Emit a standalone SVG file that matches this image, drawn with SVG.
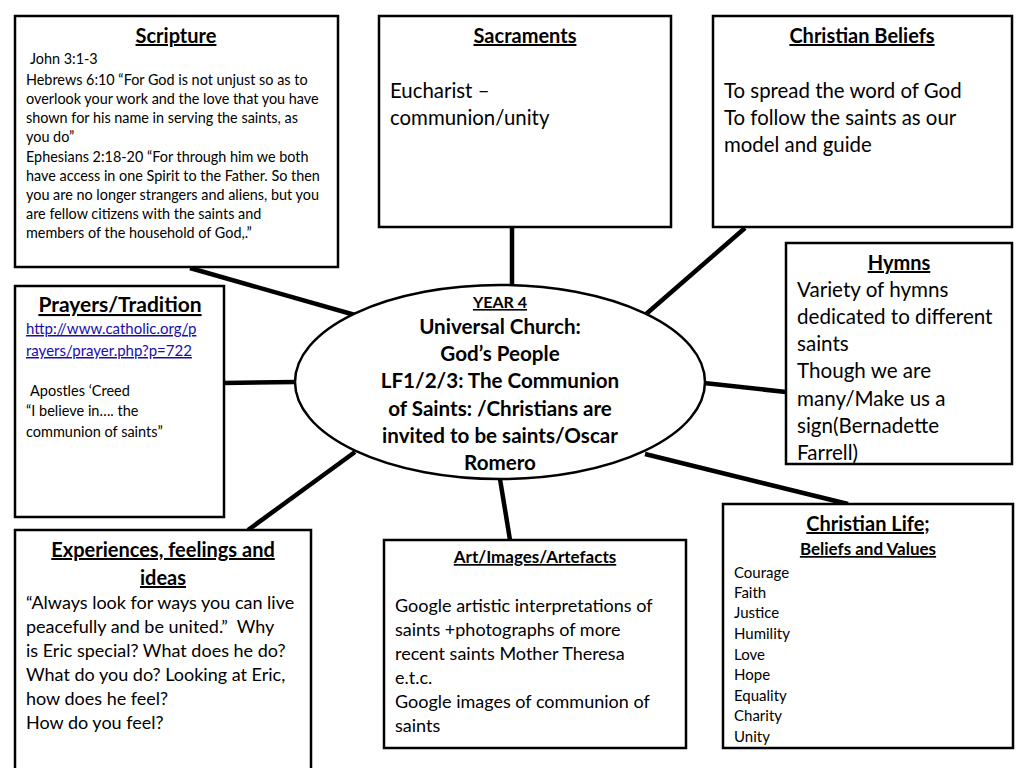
<svg xmlns="http://www.w3.org/2000/svg" width="1024" height="768" viewBox="0 0 1024 768">
<style>
.box{fill:#fff;stroke:#000;stroke-width:2.5}
.t{font-family:Lato,"Open Sans","Liberation Sans",sans-serif;fill:#000}
.h{font-weight:bold;text-decoration:underline;text-anchor:middle}
.c{font-weight:bold;text-anchor:middle}
.lnk{fill:#1a0dab;text-decoration:underline}
.con line{stroke:#000;stroke-width:4.5}
</style>
<rect width="1024" height="768" fill="#fff"/>
<g class="con">
<line x1="190" y1="268" x2="355" y2="315"/>
<line x1="512" y1="228" x2="512" y2="287"/>
<line x1="745" y1="228" x2="645" y2="315"/>
<line x1="224" y1="383" x2="296" y2="382"/>
<line x1="704" y1="383" x2="786" y2="392"/>
<line x1="248" y1="530" x2="355" y2="452"/>
<line x1="500" y1="479" x2="510" y2="540"/>
<line x1="645" y1="454" x2="848" y2="504"/>
</g>
<g id="scripture">
<rect class="box" x="15" y="16" width="323" height="251"/>
<text class="t h" x="176" y="43" font-size="20">Scripture</text>
<g class="t" font-size="14.4">
<text x="30" y="64">John 3:1-3</text>
<text x="26" y="85">Hebrews 6:10 “For God is not unjust so as to</text>
<text x="26" y="104">overlook your work and the love that you have</text>
<text x="26" y="123">shown for his name in serving the saints, as</text>
<text x="26" y="142">you do”</text>
<text x="26" y="162">Ephesians 2:18-20 “For through him we both</text>
<text x="26" y="181">have access in one Spirit to the Father. So then</text>
<text x="26" y="200">you are no longer strangers and aliens, but you</text>
<text x="26" y="219">are fellow citizens with the saints and</text>
<text x="26" y="238">members of the household of God,.”</text>
</g>
</g>
<g id="sacraments">
<rect class="box" x="379" y="16" width="292" height="211"/>
<text class="t h" x="525" y="43" font-size="20">Sacraments</text>
<text class="t" x="390" y="98" font-size="20.4">Eucharist –</text>
<text class="t" x="390" y="125" font-size="20.4">communion/unity</text>
</g>
<g id="beliefs">
<rect class="box" x="713" y="16" width="299" height="211"/>
<text class="t h" x="862" y="43" font-size="20">Christian Beliefs</text>
<g class="t" font-size="20.4">
<text x="724" y="98">To spread the word of God</text>
<text x="724" y="125">To follow the saints as our</text>
<text x="724" y="152">model and guide</text>
</g>
</g>
<g id="hymns">
<rect class="box" x="786" y="243" width="226" height="221"/>
<text class="t h" x="899" y="270" font-size="20">Hymns</text>
<g class="t" font-size="20.6">
<text x="797" y="297">Variety of hymns</text>
<text x="797" y="324">dedicated to different</text>
<text x="797" y="351">saints</text>
<text x="797" y="378">Though we are</text>
<text x="797" y="406">many/Make us a</text>
<text x="797" y="433">sign(Bernadette</text>
<text x="797" y="460">Farrell)</text>
</g>
</g>
<g id="prayers">
<rect class="box" x="15" y="286" width="209" height="231"/>
<text class="t h" x="120" y="312" font-size="21">Prayers/Tradition</text>
<text class="t lnk" x="26" y="334" font-size="15">http://www.catholic.org/p</text>
<text class="t lnk" x="26" y="356" font-size="15">rayers/prayer.php?p=722</text>
<g class="t" font-size="14.5">
<text x="30" y="396">Apostles ‘Creed</text>
<text x="26" y="416">“I believe in…. the</text>
<text x="26" y="437">communion of saints”</text>
</g>
</g>
<g id="centre">
<ellipse cx="500" cy="382" rx="205" ry="97" fill="#fff" stroke="#000" stroke-width="2.5"/>
<text class="t h" x="500" y="308" font-size="16">YEAR 4</text>
<g class="t c" font-size="20.6">
<text x="500" y="334">Universal Church:</text>
<text x="500" y="361">God’s People</text>
<text x="500" y="388">LF1/2/3: The Communion</text>
<text x="500" y="416">of Saints: /Christians are</text>
<text x="500" y="443">invited to be saints/Oscar</text>
<text x="500" y="470">Romero</text>
</g>
</g>
<g id="experiences">
<rect class="box" x="15" y="530" width="296" height="250"/>
<text class="t h" x="163" y="557" font-size="20">Experiences, feelings and</text>
<text class="t h" x="163" y="585" font-size="20">ideas</text>
<g class="t" font-size="18">
<text x="26" y="609">“Always look for ways you can live</text>
<text x="26" y="633" xml:space="preserve">peacefully and be united.”  Why</text>
<text x="26" y="657">is Eric special? What does he do?</text>
<text x="26" y="681">What do you do? Looking at Eric,</text>
<text x="26" y="705">how does he feel?</text>
<text x="26" y="729">How do you feel?</text>
</g>
</g>
<g id="art">
<rect class="box" x="384" y="540" width="302" height="208"/>
<text class="t h" x="535" y="563" font-size="17">Art/Images/Artefacts</text>
<g class="t" font-size="18">
<text x="395" y="612">Google artistic interpretations of</text>
<text x="395" y="636">saints +photographs of more</text>
<text x="395" y="660">recent saints Mother Theresa</text>
<text x="395" y="684">e.t.c.</text>
<text x="395" y="708">Google images of communion of</text>
<text x="395" y="732">saints</text>
</g>
</g>
<g id="life">
<rect class="box" x="723" y="504" width="290" height="244"/>
<text class="t h" x="868" y="531" font-size="20">Christian Life;</text>
<text class="t h" x="868" y="555" font-size="17">Beliefs and Values</text>
<g class="t" font-size="15">
<text x="734" y="578">Courage</text>
<text x="734" y="598">Faith</text>
<text x="734" y="618">Justice</text>
<text x="734" y="639">Humility</text>
<text x="734" y="660">Love</text>
<text x="734" y="680">Hope</text>
<text x="734" y="701">Equality</text>
<text x="734" y="721">Charity</text>
<text x="734" y="742">Unity</text>
</g>
</g>
</svg>
